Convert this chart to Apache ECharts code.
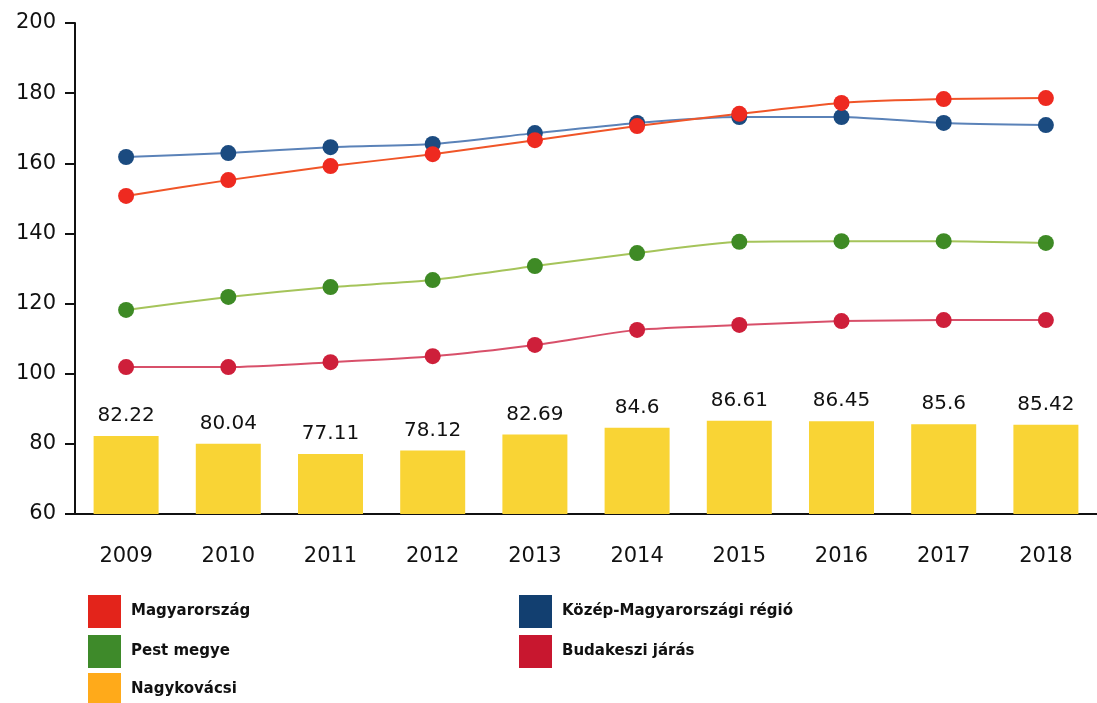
<!DOCTYPE html>
<html>
<head>
<meta charset="utf-8">
<script src="https://cdn.jsdelivr.net/npm/echarts@6/dist/echarts.min.js"></script>
<style>
html,body{margin:0;padding:0;background:#fff;}
#c{width:1097px;height:703px;}
</style>
</head>
<body>
<div id="c"></div>
<script>
const years = ['2009','2010','2011','2012','2013','2014','2015','2016','2017','2018'];
const magyarorszag = [150.7,155.2,159.2,162.6,166.6,170.6,174.1,177.2,178.3,178.6];
const kozepMagyar = [161.8,162.9,164.6,165.5,168.6,171.5,173.2,173.2,171.5,170.9];
const pestMegye = [118.2,121.9,124.7,126.7,130.7,134.4,137.6,137.8,137.8,137.3];
const budakeszi = [101.9,101.9,103.3,105.0,108.2,112.5,113.9,115.0,115.3,115.3];
const nagykovacsi = [82.22,80.04,77.11,78.12,82.69,84.6,86.61,86.45,85.6,85.42];
const yTicks = [60,80,100,120,140,160,180,200];

const legendItems = [
  {name:'Magyarország', color:'#E3241B', left:88, top:595},
  {name:'Pest megye', color:'#3E8A2A', left:88, top:635},
  {name:'Nagykovácsi', color:'#FFAA1A', left:88, top:673},
  {name:'Közép-Magyarországi régió', color:'#123F70', left:519, top:595},
  {name:'Budakeszi járás', color:'#C8172F', left:519, top:635}
];

const FONT = 'DejaVu Sans';
function lineSeries(name, data, dot, line){
  return {
    name, type:'line', data, smooth:0.2,
    symbol:'circle', symbolSize:16,
    itemStyle:{color:dot},
    lineStyle:{color:line,width:2},
    z:3
  };
}
const chart = echarts.init(document.getElementById('c'));
chart.setOption({
  animation:false,
  backgroundColor:'#fff',
  grid:{left:75,top:23,width:1033,height:491,containLabel:false},
  legend: legendItems.map(it=>({
    left:it.left, top:it.top, padding:0, itemWidth:33, itemHeight:33, icon:'rect',
    selectedMode:false,
    textStyle:{fontFamily:FONT,fontSize:15,fontWeight:'bold',color:'#111',padding:[0,0,0,5]},
    data:[{name:it.name,itemStyle:{color:it.color}}]
  })),
  xAxis:{
    type:'category', data:years, boundaryGap:true,
    axisLine:{lineStyle:{color:'#111',width:2}},
    axisTick:{alignWithLabel:true,length:9,lineStyle:{color:'#111',width:2}},
    axisLabel:{fontFamily:FONT,fontSize:21,color:'#111',margin:32},
    splitLine:{show:false}
  },
  yAxis:{
    type:'value', min:60, max:200, interval:20,
    axisLine:{show:true,lineStyle:{color:'#111',width:2}},
    axisTick:{show:true,length:10,lineStyle:{color:'#111',width:2}},
    axisLabel:{fontFamily:FONT,fontSize:21,color:'#111',margin:19,
      formatter:v=>yTicks.includes(v)?String(v):''},
    splitLine:{show:false}
  },
  series:[
    {name:'Nagykovácsi',type:'bar',data:nagykovacsi,barWidth:65,
     itemStyle:{color:'#F9D435'},
     label:{show:true,position:'top',distance:10,fontFamily:FONT,fontSize:20,color:'#111'},
     z:1},
    lineSeries('Budakeszi járás',budakeszi,'#CE1F3A','#D8506A'),
    lineSeries('Pest megye',pestMegye,'#3E8A25','#A5C45A'),
    lineSeries('Közép-Magyarországi régió',kozepMagyar,'#1B4B80','#5A82B8'),
    lineSeries('Magyarország',magyarorszag,'#EE2A20','#F05528')
  ]
});
</script>
</body>
</html>
